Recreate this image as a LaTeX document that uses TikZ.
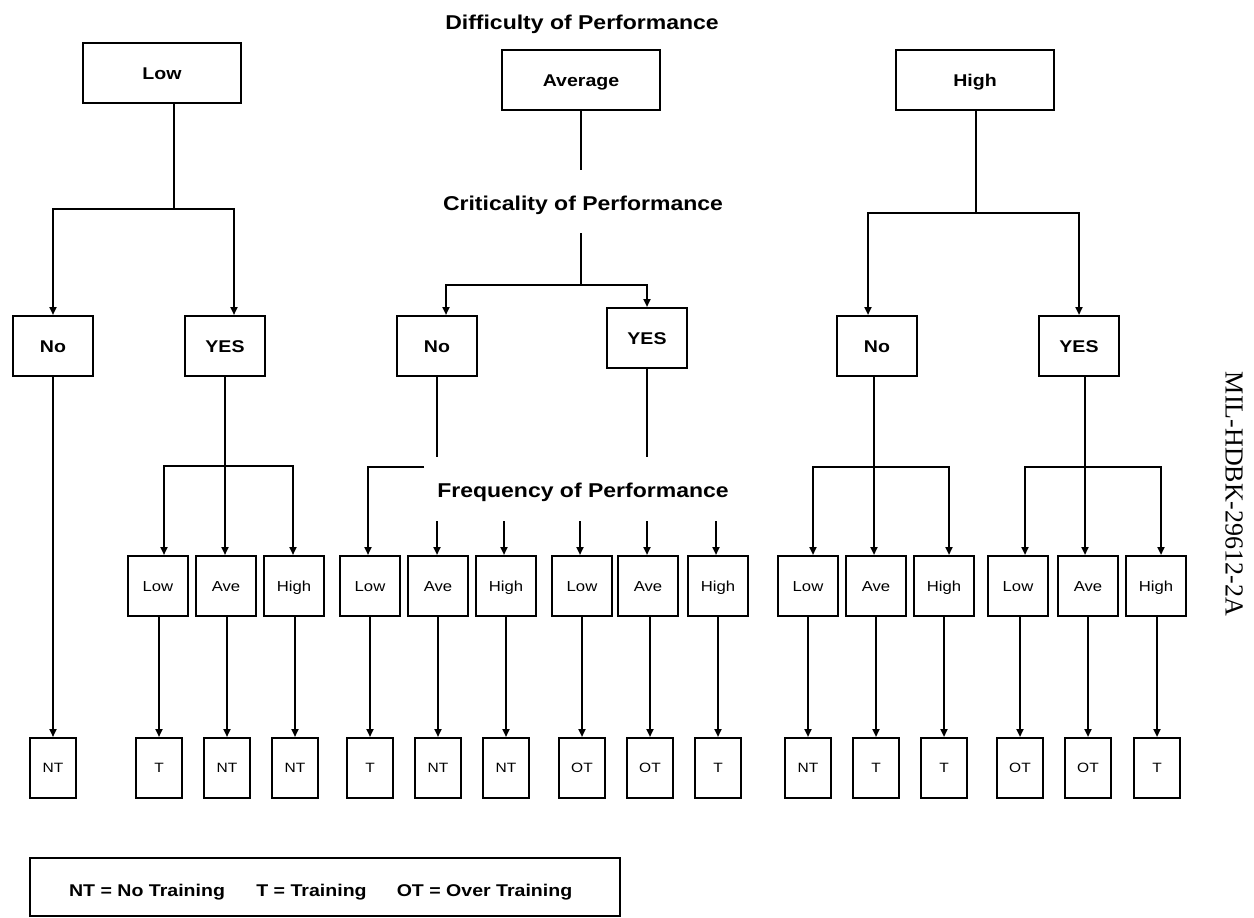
\documentclass[tikz,border=0pt]{standalone}
\usepackage{fontspec}
\setmainfont{Liberation Sans}[FakeStretch=1.15]
\newfontfamily\serifx{Liberation Serif}
\usetikzlibrary{arrows.meta}
\begin{document}
\begin{tikzpicture}[x=1pt,y=-1pt,line width=2pt,
  box/.style={draw,line width=2pt,inner sep=0pt,text depth=0pt},
  toplvl/.style={box,minimum width=158pt,minimum height=60pt,font=\bfseries\fontsize{17}{20}\selectfont,text height=12.2pt},
  crit/.style={box,minimum width=80pt,minimum height=60pt,font=\bfseries\fontsize{17}{20}\selectfont,text height=12.2pt},
  freq/.style={box,minimum width=60pt,minimum height=60pt,font=\fontsize{14.5}{17}\selectfont,text height=10.4pt},
  leaf/.style={box,minimum width=46pt,minimum height=60pt,font=\fontsize{13.5}{16}\selectfont,text height=9.7pt},
  heading/.style={anchor=base,inner sep=0pt,font=\bfseries\fontsize{20}{24}\selectfont},
  legendtext/.style={anchor=base,inner sep=0pt,font=\bfseries\fontsize{17}{20}\selectfont},
  arr/.style={-{Triangle[length=8pt,width=7pt]}}]
\fill[white] (0,0) rectangle (1254,918);
\useasboundingbox (0,0) rectangle (1254,918);

% headings
\node[heading] (hDiff) at (582,29) {Difficulty of Performance};
\node[heading] (hCrit) at (583,210) {Criticality of Performance};
\node[heading] (hFreq) at (583,497) {Frequency of Performance};

% difficulty level
\node[toplvl] (dLow) at (162,73) {Low};
\node[toplvl] (dAve) at (581,80) {Average};
\node[toplvl] (dHigh) at (975,80) {High};

% criticality level
\node[crit] (cLowNo) at (53,346) {No};
\node[crit] (cLowYes) at (225,346) {YES};
\node[crit] (cAveNo) at (437,346) {No};
\node[crit] (cAveYes) at (647,338) {YES};
\node[crit] (cHighNo) at (877,346) {No};
\node[crit] (cHighYes) at (1079,346) {YES};

% frequency level
\foreach \n/\x/\t in {fLYLow/158/Low, fLYAve/226/Ave, fLYHigh/294/High,
  fANLow/370/Low, fANAve/438/Ave, fANHigh/506/High,
  fAYLow/582/Low, fAYAve/648/Ave, fAYHigh/718/High,
  fHNLow/808/Low, fHNAve/876/Ave, fHNHigh/944/High,
  fHYLow/1018/Low, fHYAve/1088/Ave, fHYHigh/1156/High}
  \node[freq] (\n) at (\x,586) {\t};

% leaves
\foreach \n/\x/\t in {l1/53/NT, l2/159/T, l3/227/NT, l4/295/NT, l5/370/T, l6/438/NT,
  l7/506/NT, l8/582/OT, l9/650/OT, l10/718/T, l11/808/NT, l12/876/T, l13/944/T,
  l14/1020/OT, l15/1088/OT, l16/1157/T}
  \node[leaf] (\n) at (\x,768) {\t};

% legend
\node[draw,line width=2pt,minimum width=590pt,minimum height=58pt,inner sep=0pt] (legend) at (325,887) {};
\node[legendtext] (lgNT) at (147,896) {NT = No Training};
\node[legendtext] (lgT) at (311.5,896) {T = Training};
\node[legendtext] (lgOT) at (484.5,896) {OT = Over Training};

% side label
\node[rotate=-90,inner sep=0pt,font=\serifx\fontsize{26}{30}\selectfont] (docid) at (1234,494) {MIL-HDBK-29612-2A};

% ---- connectors: difficulty -> criticality
\coordinate (lowJ) at (174,209);
\coordinate (lowR) at (234,209);
\draw (dLow.south -| lowJ) -- (lowJ);
\draw[arr] (lowJ) -| (cLowNo.north);
\draw[arr] (lowJ) -- (lowR) -- (lowR |- cLowYes.north);

\coordinate (aveStub) at (581,170);
\coordinate (aveTop) at (581,233);
\coordinate (aveJ) at (581,285);
\coordinate (aveL) at (446,285);
\draw (dAve.south) -- (aveStub);
\draw (aveTop) -- (aveJ);
\draw[arr] (aveJ) -- (aveL) -- (aveL |- cAveNo.north);
\draw[arr] (aveJ) -| (cAveYes.north);

\coordinate (hiJ) at (976,213);
\coordinate (hiL) at (868,213);
\draw (dHigh.south -| hiJ) -- (hiJ);
\draw[arr] (hiJ) -- (hiL) -- (hiL |- cHighNo.north);
\draw[arr] (hiJ) -| (cHighYes.north);

% ---- criticality -> frequency
% Low / YES
\coordinate (lyJ) at (225,466);
\coordinate (lyL) at (164,466);
\coordinate (lyR) at (293,466);
\draw (cLowYes.south) -- (lyJ);
\draw[arr] (lyJ) -- (lyL) -- (lyL |- fLYLow.north);
\draw[arr] (lyJ) -- (lyJ |- fLYAve.north);
\draw[arr] (lyJ) -- (lyR) -- (lyR |- fLYHigh.north);

% Average / No
\coordinate (anEnd) at (437,457);
\coordinate (anS) at (424,467);
\coordinate (anC) at (368,467);
\coordinate (anA) at (437,521);
\coordinate (anH) at (504,521);
\draw (cAveNo.south) -- (anEnd);
\draw[arr] (anS) -- (anC) -- (anC |- fANLow.north);
\draw[arr] (anA) -- (anA |- fANAve.north);
\draw[arr] (anH) -- (anH |- fANHigh.north);

% Average / YES
\coordinate (ayEnd) at (647,457);
\coordinate (ayL) at (580,521);
\coordinate (ayA) at (647,521);
\coordinate (ayH) at (716,521);
\draw (cAveYes.south) -- (ayEnd);
\draw[arr] (ayL) -- (ayL |- fAYLow.north);
\draw[arr] (ayA) -- (ayA |- fAYAve.north);
\draw[arr] (ayH) -- (ayH |- fAYHigh.north);

% High / No
\coordinate (hnJ) at (874,467);
\coordinate (hnL) at (813,467);
\coordinate (hnR) at (949,467);
\draw (cHighNo.south -| hnJ) -- (hnJ);
\draw[arr] (hnJ) -- (hnL) -- (hnL |- fHNLow.north);
\draw[arr] (hnJ) -- (hnJ |- fHNAve.north);
\draw[arr] (hnJ) -- (hnR) -- (hnR |- fHNHigh.north);

% High / YES
\coordinate (hyJ) at (1085,467);
\coordinate (hyL) at (1025,467);
\coordinate (hyR) at (1161,467);
\draw (cHighYes.south -| hyJ) -- (hyJ);
\draw[arr] (hyJ) -- (hyL) -- (hyL |- fHYLow.north);
\draw[arr] (hyJ) -- (hyJ |- fHYAve.north);
\draw[arr] (hyJ) -- (hyR) -- (hyR |- fHYHigh.north);

% ---- to outcomes
\draw[arr] (l1.north |- cLowNo.south) -- (l1.north);
\foreach \f/\l in {fLYLow/l2, fLYAve/l3, fLYHigh/l4, fANLow/l5, fANAve/l6, fANHigh/l7,
  fAYLow/l8, fAYAve/l9, fAYHigh/l10, fHNLow/l11, fHNAve/l12, fHNHigh/l13,
  fHYLow/l14, fHYAve/l15, fHYHigh/l16}
  \draw[arr] (\l.north |- \f.south) -- (\l.north);
\end{tikzpicture}
\end{document}
